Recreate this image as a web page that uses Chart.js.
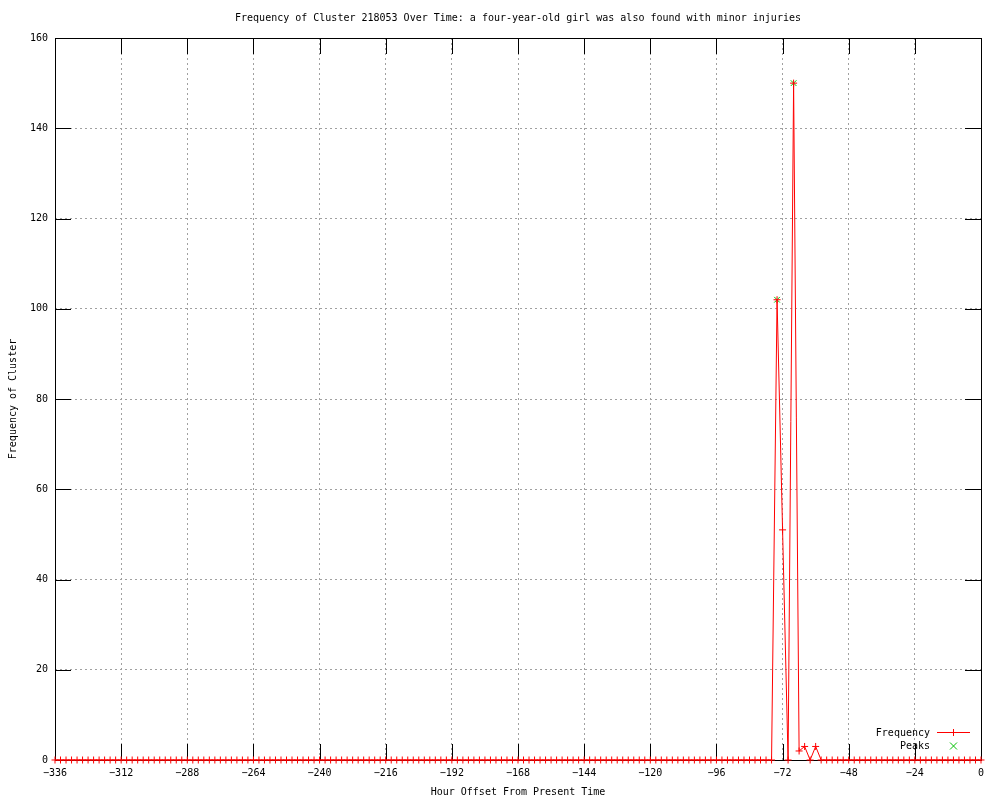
<!DOCTYPE html>
<html>
<head>
<meta charset="utf-8">
<script src="https://cdn.jsdelivr.net/npm/chart.js@4/dist/chart.umd.min.js"></script>
<style>
  body { margin: 0; background: #fff; }
  #wrap { width: 1000px; height: 800px; }
</style>
</head>
<body>
<div id="wrap"><canvas id="myChart" width="1000" height="800"></canvas></div>
<script>
// hour offsets, one sample every 2 hours
var hours = [
  -336,-334,-332,-330,-328,-326,-324,-322,-320,-318,-316,-314,
  -312,-310,-308,-306,-304,-302,-300,-298,-296,-294,-292,-290,
  -288,-286,-284,-282,-280,-278,-276,-274,-272,-270,-268,-266,
  -264,-262,-260,-258,-256,-254,-252,-250,-248,-246,-244,-242,
  -240,-238,-236,-234,-232,-230,-228,-226,-224,-222,-220,-218,
  -216,-214,-212,-210,-208,-206,-204,-202,-200,-198,-196,-194,
  -192,-190,-188,-186,-184,-182,-180,-178,-176,-174,-172,-170,
  -168,-166,-164,-162,-160,-158,-156,-154,-152,-150,-148,-146,
  -144,-142,-140,-138,-136,-134,-132,-130,-128,-126,-124,-122,
  -120,-118,-116,-114,-112,-110,-108,-106,-104,-102,-100,-98,
  -96,-94,-92,-90,-88,-86,-84,-82,-80,-78,-76,-74,
  -72,-70,-68,-66,-64,-62,-60,-58,-56,-54,-52,-50,
  -48,-46,-44,-42,-40,-38,-36,-34,-32,-30,-28,-26,
  -24,-22,-20,-18,-16,-14,-12,-10,-8,-6,-4,-2,
  0
];
var frequency = [
  0,0,0,0,0,0,0,0,0,0,0,0,
  0,0,0,0,0,0,0,0,0,0,0,0,
  0,0,0,0,0,0,0,0,0,0,0,0,
  0,0,0,0,0,0,0,0,0,0,0,0,
  0,0,0,0,0,0,0,0,0,0,0,0,
  0,0,0,0,0,0,0,0,0,0,0,0,
  0,0,0,0,0,0,0,0,0,0,0,0,
  0,0,0,0,0,0,0,0,0,0,0,0,
  0,0,0,0,0,0,0,0,0,0,0,0,
  0,0,0,0,0,0,0,0,0,0,0,0,
  0,0,0,0,0,0,0,0,0,0,0,102,
  51,0,150,2,3,0,3,0,0,0,0,0,
  0,0,0,0,0,0,0,0,0,0,0,0,
  0,0,0,0,0,0,0,0,0,0,0,0,
  0
];
var peakHours = [-74, -68];
var peakValues = [102, 150];

var xTicks = [-336,-312,-288,-264,-240,-216,-192,-168,-144,-120,-96,-72,-48,-24,0];
var yTicks = [0,20,40,60,80,100,120,140,160];

var titleText = 'Frequency of Cluster 218053 Over Time: a four-year-old girl was also found with minor injuries';
var fontFamily = '"DejaVu Sans Mono", "Liberation Mono", monospace';
var monoFont = {family: fontFamily, size: 10, weight: 'normal', lineHeight: 1.2};

// title, frame, inward tics and legend in gnuplot style
const gnuplotFrame = {
  id: 'gnuplotFrame',
  beforeDatasetsDraw(chart) {
    const ctx = chart.ctx, a = chart.chartArea;
    const xs = chart.scales.x, ys = chart.scales.y;
    const tic = 16;
    ctx.save();
    ctx.strokeStyle = '#000';
    ctx.lineWidth = 1;
    ctx.beginPath();
    xTicks.forEach(function (h) {
      const px = Math.round(xs.getPixelForValue(h)) + 0.5;
      ctx.moveTo(px, a.bottom); ctx.lineTo(px, a.bottom - tic);
      ctx.moveTo(px, a.top); ctx.lineTo(px, a.top + tic);
    });
    yTicks.forEach(function (v) {
      const py = Math.round(ys.getPixelForValue(v)) + 0.5;
      ctx.moveTo(a.left, py); ctx.lineTo(a.left + tic, py);
      ctx.moveTo(a.right, py); ctx.lineTo(a.right - tic, py);
    });
    ctx.stroke();
    ctx.strokeRect(Math.round(a.left) + 0.5, Math.round(a.top) + 0.5,
                   Math.round(a.right - a.left), Math.round(a.bottom - a.top));
    ctx.restore();
  },
  afterDraw(chart) {
    const ctx = chart.ctx, a = chart.chartArea;
    ctx.save();
    ctx.font = '10px ' + fontFamily;
    ctx.fillStyle = '#000';
    ctx.textBaseline = 'middle';
    ctx.textAlign = 'center';
    ctx.fillText(titleText, (a.left + a.right) / 2, 18);
    ctx.textAlign = 'right';
    ctx.fillText('Frequency', 930, 733);
    ctx.fillText('Peaks', 930, 746);
    // legend samples
    ctx.strokeStyle = '#ff0000';
    ctx.lineWidth = 1;
    ctx.beginPath();
    ctx.moveTo(937, 732.5); ctx.lineTo(970, 732.5);
    ctx.moveTo(953.5, 729); ctx.lineTo(953.5, 736);
    ctx.stroke();
    ctx.strokeStyle = '#00c000';
    ctx.beginPath();
    ctx.moveTo(950, 742.5); ctx.lineTo(957, 749.5);
    ctx.moveTo(957, 742.5); ctx.lineTo(950, 749.5);
    ctx.stroke();
    ctx.restore();
  }
};

const data = {
  datasets: [{
    label: 'Frequency',
    data: hours.map(function (h, i) { return {x: h, y: frequency[i]}; }),
    borderColor: '#ff0000',
    backgroundColor: '#ff0000',
    borderWidth: 1,
    pointStyle: 'cross',
    pointRadius: 3.5,
    pointBorderWidth: 1,
    pointBorderColor: '#ff0000',
    tension: 0,
    fill: false,
    clip: false
  }, {
    label: 'Peaks',
    data: peakHours.map(function (h, i) { return {x: h, y: peakValues[i]}; }),
    showLine: false,
    borderColor: '#00c000',
    backgroundColor: '#00c000',
    pointStyle: 'crossRot',
    pointRadius: 4,
    pointBorderWidth: 1,
    pointBorderColor: '#00c000',
    clip: false
  }]
};

const config = {
  type: 'line',
  data: data,
  options: {
    responsive: false,
    animation: false,
    devicePixelRatio: 1,
    layout: { padding: { left: 0, right: 19, top: 38, bottom: 0 } },
    plugins: {
      legend: { display: false },
      tooltip: { enabled: false },
      title: { display: false }
    },
    scales: {
      x: {
        type: 'linear',
        min: -336,
        max: 0,
        afterBuildTicks: function (scale) {
          scale.ticks = xTicks.map(function (v) { return {value: v}; });
        },
        afterFit: function (scale) { scale.height = 40; },
        grid: { color: '#a0a0a0', lineWidth: 1, drawTicks: false },
        border: { display: false, dash: [2, 3] },
        ticks: {
          color: '#000',
          font: monoFont,
          padding: 7,
          maxRotation: 0,
          autoSkip: false,
          callback: function (v) { return String(v).replace('-', '\u2212'); }
        },
        title: {
          display: true,
          text: 'Hour Offset From Present Time',
          color: '#000',
          font: monoFont,
          padding: { top: 0, bottom: 2 }
        }
      },
      y: {
        min: 0,
        max: 160,
        afterBuildTicks: function (scale) {
          scale.ticks = yTicks.map(function (v) { return {value: v}; });
        },
        afterFit: function (scale) { scale.width = 55; },
        grid: { color: '#a0a0a0', lineWidth: 1, drawTicks: false },
        border: { display: false, dash: [2, 3] },
        ticks: {
          color: '#000',
          font: monoFont,
          padding: 7,
          autoSkip: false
        },
        title: {
          display: true,
          text: 'Frequency of Cluster',
          color: '#000',
          font: monoFont,
          padding: { top: 7, bottom: 0 }
        }
      }
    }
  },
  plugins: [gnuplotFrame]
};

const myChart = new Chart(document.getElementById('myChart'), config);
</script>
</body>
</html>
